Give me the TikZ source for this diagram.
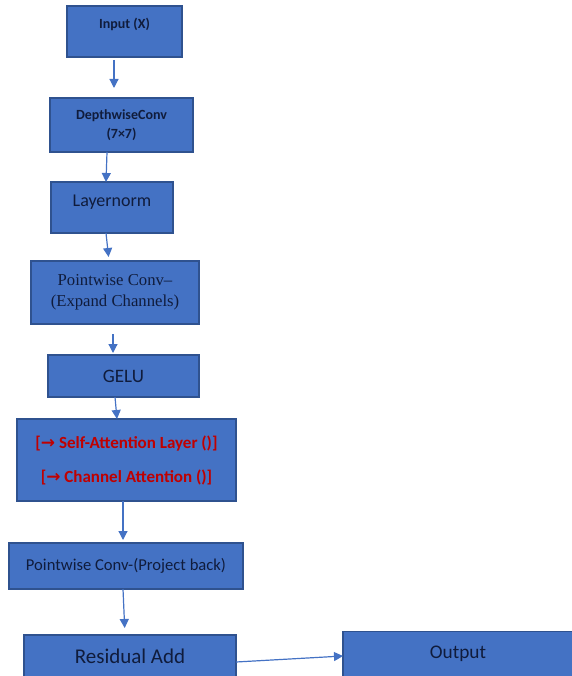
\documentclass[tikz,border=0pt]{standalone}
\usepackage{fontspec}
\setmainfont{Carlito}
\newfontfamily\timesfont{Liberation Serif}
\newfontfamily\symbfont{DejaVu Sans}
\usetikzlibrary{positioning,arrows.meta}
\definecolor{boxblue}{HTML}{4472C4}
\definecolor{boxedge}{HTML}{2F528F}
\definecolor{boxtext}{HTML}{101C3C}
\definecolor{attnred}{HTML}{C00000}

\begin{document}
\begin{tikzpicture}[x=1pt, y=1pt,
    block/.style = {draw=boxedge, fill=boxblue, line width=1.2pt, text=boxtext, align=center, inner sep=0pt, outer sep=0pt},
    flow/.style = {draw=boxblue, line width=1.2pt, -{Triangle[width=9pt,length=9pt]}},
    node distance=30pt]
    \useasboundingbox (0,0) rectangle (571,-676);

    \node[block, minimum width=115pt, minimum height=51pt, text height=22.5pt, text depth=28.5pt,
        font=\bfseries\fontsize{14}{17}\selectfont] (in) at (124.5,-31.5) {Input (X)};
    \node[block, minimum width=143pt, minimum height=54pt, font=\bfseries\fontsize{14}{19}\selectfont]
        (dw) [below=41pt of in, xshift=-3pt] {DepthwiseConv\\(7×7)};
    \draw[flow, shorten <=3pt, shorten >=10pt] ([xshift=-10.5pt]in.south) -- ([xshift=-7.5pt]dw.north);

    \node[block, minimum width=122pt, minimum height=51pt, text height=24.8pt, text depth=26.2pt,
        font=\fontsize{18}{21}\selectfont] (ln) [below=30pt of dw, xshift=-9.5pt] {Layernorm};
    \draw[flow] ([xshift=-14.5pt]dw.south) -- ([xshift=-6pt]ln.north);

    \node[block, minimum width=168pt, minimum height=63pt, font=\timesfont\fontsize{16.7}{21}\selectfont]
        (pe) [below=28pt of ln, xshift=3pt] {Pointwise Conv–\\(Expand Channels)};
    \draw[flow, shorten >=4pt] ([xshift=-6pt]ln.south) -- ([xshift=-6pt]pe.north);

    \node[block, minimum width=151pt, minimum height=42pt, font=\fontsize{19}{22}\selectfont]
        (ge) [below=31pt of pe, xshift=8.5pt] {GELU};
    \draw[flow, shorten <=10pt, shorten >=2pt] ([xshift=-2pt]pe.south) -- ([xshift=-10.5pt]ge.north);

    \node[block, text=attnred, minimum width=219pt, minimum height=82pt, font=\bfseries\fontsize{17}{34}\selectfont]
        (at) [below=22pt of ge, xshift=3pt] {{[}{\symbfont →} Self-Attention Layer (){]}\\{[}{\symbfont →} Channel Attention (){]}};
    \draw[flow] ([xshift=-8.5pt]ge.south) -- ([xshift=-9.5pt]at.north);

    \node[block, minimum width=234pt, minimum height=46pt, font=\fontsize{16.6}{20}\selectfont]
        (pb) [below=42pt of at, xshift=-0.5pt] {Pointwise Conv-(Project back)};
    \draw[flow, shorten >=3pt] ([xshift=-3.5pt]at.south) -- ([xshift=-3pt]pb.north);

    \node[block, minimum width=212pt, minimum height=42pt, font=\fontsize{21}{25}\selectfont]
        (ra) [below=46pt of pb, xshift=4pt] {Residual Add};
    \draw[flow, shorten >=7pt] ([xshift=-3pt]pb.south) -- ([xshift=-5pt]ra.north);

    \node[block, minimum width=230pt, minimum height=45pt, font=\fontsize{19.3}{23}\selectfont]
        (out) [right=107pt of ra, yshift=2pt] {Output};
    \draw[flow] ([yshift=-6pt]ra.east) -- ([yshift=-2pt]out.west);
\end{tikzpicture}
\end{document}
